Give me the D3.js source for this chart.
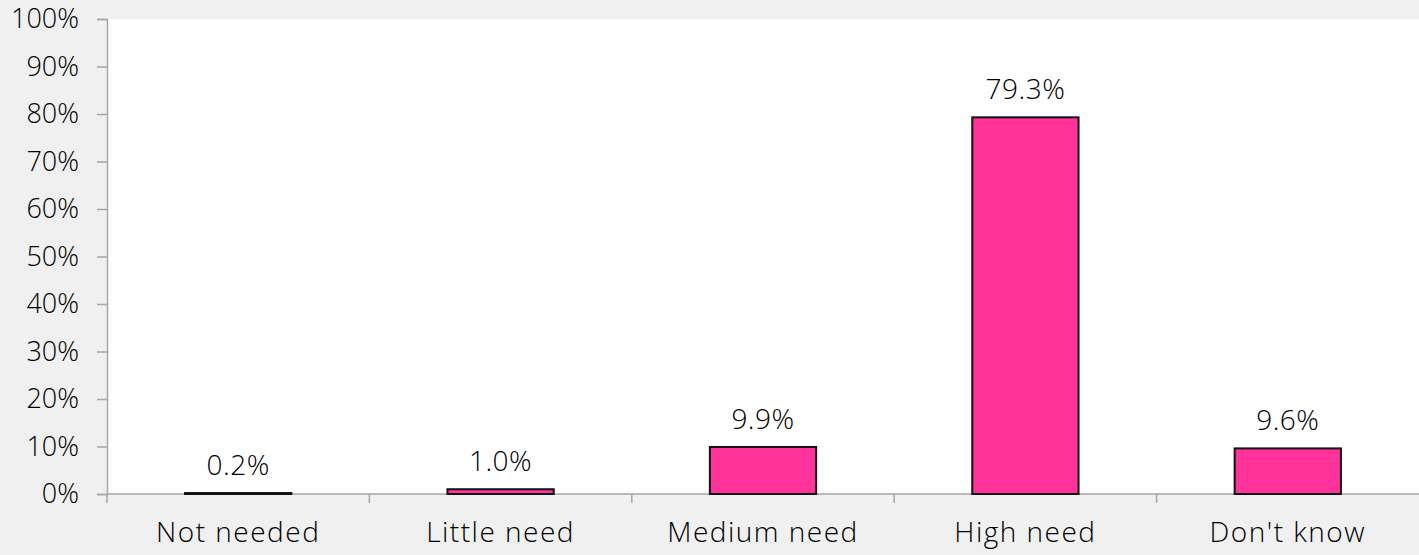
<!DOCTYPE html>
<html>
<head>
<meta charset="utf-8">
<script src="https://cdn.jsdelivr.net/npm/d3@7"></script>
<style>
  html, body { margin: 0; padding: 0; background: #f0f0f0; }
  svg { display: block; }
  text { font-family: "Open Sans", "Noto Sans", sans-serif; font-weight: 300; fill: #000000; }
</style>
</head>
<body>
<script>
const categories = ["Not needed", "Little need", "Medium need", "High need", "Don't know"];
const values = [0.2, 1.0, 9.9, 79.3, 9.6];
const yTicks = [0, 10, 20, 30, 40, 50, 60, 70, 80, 90, 100];

const W = 1419, H = 555;
const margin = { left: 107, right: 0, top: 19, bottom: 61 };

const svg = d3.select("body").append("svg").attr("width", W).attr("height", H);

// plot area
svg.append("rect")
  .attr("x", margin.left).attr("y", margin.top)
  .attr("width", W - margin.left - margin.right)
  .attr("height", H - margin.top - margin.bottom)
  .attr("fill", "#ffffff");

const x = d3.scaleBand().domain(categories)
  .range([margin.left, W - margin.right]).padding(0);
const y = d3.scaleLinear().domain([0, 100]).range([H - margin.bottom, margin.top]);

// y axis
const yAxis = svg.append("g")
  .attr("transform", `translate(${margin.left},0)`)
  .call(d3.axisLeft(y).tickValues(yTicks).tickFormat(d => d + "%").tickSize(10).tickPadding(18));
yAxis.select(".domain").attr("stroke", "#a6a6a6").attr("stroke-width", 1.5);
yAxis.selectAll(".tick line").attr("stroke", "#a6a6a6").attr("stroke-width", 1.5);
yAxis.selectAll(".tick text").attr("font-size", 27).attr("fill", "#000000")
  .attr("font-family", '"Open Sans", sans-serif').attr("font-weight", 300);

// x axis line and boundary ticks
const baseY = y(0);
svg.append("line")
  .attr("x1", margin.left).attr("x2", W)
  .attr("y1", baseY).attr("y2", baseY)
  .attr("stroke", "#a6a6a6").attr("stroke-width", 1.5);
svg.selectAll(".xtick").data(categories).enter().append("line")
  .attr("x1", d => x(d)).attr("x2", d => x(d))
  .attr("y1", baseY).attr("y2", baseY + 9)
  .attr("stroke", "#a6a6a6").attr("stroke-width", 1.5);

// category labels
svg.selectAll(".cat").data(categories).enter().append("text")
  .attr("x", d => x(d) + x.bandwidth() / 2)
  .attr("y", 542)
  .attr("text-anchor", "middle")
  .attr("font-size", 28)
  .attr("letter-spacing", 1.5)
  .text(d => d);

// bars
const barW = x.bandwidth() * 0.405;
svg.selectAll(".bar").data(categories).enter().append("rect")
  .attr("x", d => x(d) + (x.bandwidth() - barW) / 2)
  .attr("y", (d, i) => y(values[i]))
  .attr("width", barW)
  .attr("height", (d, i) => baseY - y(values[i]))
  .attr("fill", "#ff3399")
  .attr("stroke", "#111111")
  .attr("stroke-width", 2);

// value labels
svg.selectAll(".val").data(categories).enter().append("text")
  .attr("x", d => x(d) + x.bandwidth() / 2)
  .attr("y", (d, i) => y(values[i]) - 18)
  .attr("text-anchor", "middle")
  .attr("font-size", 28)
  .attr("letter-spacing", 0.5)
  .text((d, i) => values[i].toFixed(1) + "%");
</script>
</body>
</html>
